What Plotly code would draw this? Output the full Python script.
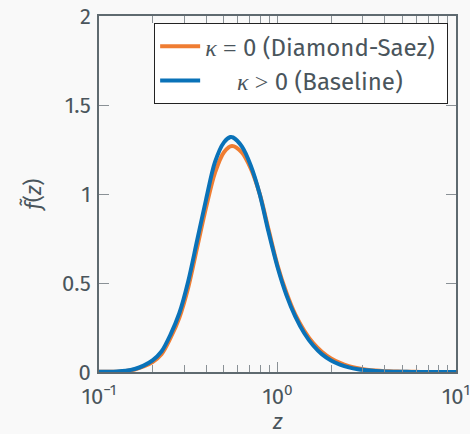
import plotly.graph_objects as go

# Density curves read on a log-spaced grid of z (about 0.05 decade apart)
z_diamond = [0.1, 0.1122, 0.1259, 0.1413, 0.1585, 0.1778, 0.1995, 0.2239, 0.2512, 0.2818,
             0.3162, 0.3548, 0.3981, 0.4467, 0.5012, 0.556, 0.631, 0.7079, 0.7943, 0.8913,
             1.0, 1.122, 1.259, 1.413, 1.585, 1.778, 1.995, 2.239, 2.512, 2.818,
             3.162, 3.548, 3.981, 4.467, 5.012, 5.623, 6.31, 7.079, 7.943, 8.913, 10.0]
f_diamond = [0.001, 0.001, 0.002, 0.006, 0.014, 0.031, 0.056, 0.10, 0.19, 0.305,
             0.475, 0.70, 0.925, 1.12, 1.235, 1.27, 1.234, 1.144, 1.002, 0.80,
             0.60, 0.445, 0.322, 0.232, 0.162, 0.112, 0.076, 0.051, 0.033, 0.021,
             0.013, 0.0078, 0.0047, 0.0028, 0.0017, 0.001, 0.0006, 0.0004, 0.0002, 0.0001, 0.0]

z_baseline = [0.1, 0.1122, 0.1259, 0.1413, 0.1585, 0.1778, 0.1995, 0.2239, 0.2512, 0.2818,
              0.3162, 0.3548, 0.3981, 0.4467, 0.5012, 0.545, 0.5623, 0.631, 0.7079, 0.7943,
              0.8913, 1.0, 1.122, 1.259, 1.413, 1.585, 1.778, 1.995, 2.239, 2.512,
              2.818, 3.162, 3.548, 3.981, 4.467, 5.012, 5.623, 6.31, 7.079, 7.943, 8.913, 10.0]
f_baseline = [0.001, 0.0015, 0.003, 0.007, 0.017, 0.036, 0.065, 0.115, 0.209, 0.33,
              0.51, 0.74, 0.97, 1.18, 1.29, 1.32, 1.318, 1.267, 1.16, 1.00,
              0.786, 0.59, 0.432, 0.311, 0.218, 0.149, 0.099, 0.065, 0.042, 0.026,
              0.0158, 0.0094, 0.0055, 0.003, 0.0017, 0.001, 0.0005, 0.0003, 0.0002, 0.0001,
              0.00005, 0.0]

x_tickvals = [0.1, 1, 10]
x_ticktext = ["10<sup>\u22121</sup>", "10<sup>0</sup>", "10<sup>1</sup>"]
x_minor = [0.2, 0.3, 0.4, 0.5, 0.6, 0.7, 0.8, 0.9, 2, 3, 4, 5, 6, 7, 8, 9]
y_tickvals = [0, 0.5, 1, 1.5, 2]
y_ticktext = ["0", "0.5", "1", "1.5", "2"]

FONT = "Fira Sans, Open Sans, Noto Sans, sans-serif"
TEXT = "#4a555c"
AXIS = "#5f6a70"
TICK = "#8a9196"
KAPPA = '<span style="font-family:Liberation Serif;font-style:italic">\u03ba</span>'
MATH = '<span style="font-family:Liberation Serif">{}</span>'
NBSP = "\u00a0"

fig = go.Figure()
fig.add_trace(go.Scatter(
    x=z_diamond, y=f_diamond, mode="lines",
    line=dict(color="#ef7d32", width=4, shape="spline", smoothing=0.9),
    name=KAPPA + " " + MATH.format("=") + " 0 (Diamond-Saez)" + NBSP,
    legendgroup="a",
))
fig.add_trace(go.Scatter(
    x=z_baseline, y=f_baseline, mode="lines",
    line=dict(color="#0a72b8", width=4, shape="spline", smoothing=0.9),
    name=NBSP * 5 + KAPPA + " " + MATH.format("&gt;") + " 0 (Baseline)",
    legendgroup="b",
))

axis_common = dict(
    showline=True, linecolor=AXIS, linewidth=1.5, mirror="ticks",
    ticks="inside", tickcolor=TICK, tickwidth=1, ticklen=10,
    showgrid=False, zeroline=False, automargin=False,
    tickfont=dict(family=FONT, size=22, color=TEXT),
)

fig.update_layout(
    width=470, height=434,
    margin=dict(l=99, r=14, t=16, b=62),
    paper_bgcolor="#f9f9f9", plot_bgcolor="#f9f9f9",
    font=dict(family=FONT, color=TEXT),
    xaxis=dict(
        type="log", range=[-1, 1],
        tickvals=x_tickvals, ticktext=x_ticktext,
        ticklabelstandoff=4, ticklabeloverflow="allow",
        minor=dict(ticks="inside", ticklen=7, tickcolor=TICK, tickwidth=1, tickvals=x_minor),
        **axis_common,
    ),
    yaxis=dict(
        range=[0, 2],
        tickvals=y_tickvals, ticktext=y_ticktext,
        ticklabelstandoff=2,
        title=dict(text="<i>f\u0303</i>(<i>z</i>)", font=dict(family=FONT, size=22, color=TEXT), standoff=14),
        **axis_common,
    ),
    legend=dict(
        x=0.978, y=0.98, xanchor="right", yanchor="top",
        bgcolor="white", bordercolor="#222222", borderwidth=1,
        font=dict(family=FONT, size=24, color=TEXT),
        tracegroupgap=0, itemwidth=40,
    ),
    showlegend=True,
    annotations=[dict(
        text="<i>z</i>", xref="paper", yref="paper", x=0.5, y=-0.138,
        xanchor="center", yanchor="middle", showarrow=False, borderpad=0,
        font=dict(family=FONT, size=22, color=TEXT),
    )],
)

fig.write_html("out.html")
